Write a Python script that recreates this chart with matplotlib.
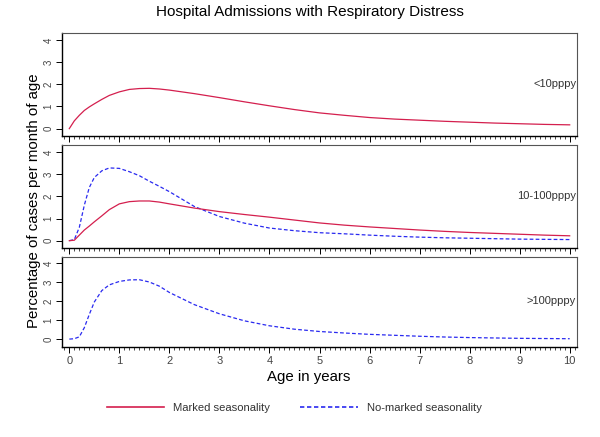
import numpy as np
import matplotlib
matplotlib.use('Agg')
import matplotlib.pyplot as plt
from matplotlib.lines import Line2D
from matplotlib.ticker import MultipleLocator

plt.rcParams['font.family'] = ['Liberation Sans', 'DejaVu Sans']

# ── 데이터 ─────────────────────────────────────────
age = [0, 0.1, 0.2, 0.3, 0.4, 0.5, 0.65, 0.8, 1.0, 1.2, 1.4, 1.6, 1.8, 2.0,
       2.5, 3.0, 3.5, 4.0, 4.5, 5.0, 5.5, 6.0, 6.5, 7.0, 7.5, 8.0, 8.5,
       9.0, 9.5, 10.0]

# <10pppy, 뚜렷한 계절성
low_marked = [0, 0.35, 0.6, 0.82, 0.98, 1.12, 1.32, 1.5, 1.66, 1.77, 1.81,
              1.82, 1.79, 1.74, 1.58, 1.40, 1.21, 1.03, 0.86, 0.71, 0.6,
              0.5, 0.43, 0.38, 0.33, 0.29, 0.25, 0.22, 0.19, 0.17]

# 10-100pppy
mid_marked = [0, 0.02, 0.25, 0.48, 0.66, 0.85, 1.12, 1.4, 1.66, 1.76, 1.79,
              1.79, 1.74, 1.66, 1.47, 1.31, 1.18, 1.06, 0.93, 0.80, 0.7,
              0.62, 0.55, 0.48, 0.42, 0.37, 0.33, 0.29, 0.25, 0.22]
mid_nomarked = [0, 0.05, 0.6, 1.6, 2.4, 2.85, 3.15, 3.28, 3.26, 3.11, 2.93,
                2.68, 2.45, 2.21, 1.54, 1.09, 0.79, 0.57, 0.45, 0.36, 0.31,
                0.25, 0.2, 0.16, 0.13, 0.11, 0.09, 0.07, 0.06, 0.05]

# >100pppy
high_nomarked = [0, 0.02, 0.12, 0.6, 1.3, 1.95, 2.55, 2.85, 3.03, 3.11, 3.12,
                 3.0, 2.78, 2.45, 1.81, 1.33, 0.96, 0.70, 0.52, 0.40, 0.32,
                 0.25, 0.2, 0.15, 0.11, 0.08, 0.06, 0.04, 0.03, 0.02]

panel_labels = ['<10pppy', '10-100pppy', '>100pppy']

red = '#d41f4e'
blue = '#2a2af0'
tick_col = '#444444'

fig = plt.figure(figsize=(6, 4.37), dpi=100)

# 세 패널 위치 (아래 패널이 조금 낮음)
boxes = [(0.103, 0.689, 0.859, 0.236),
         (0.103, 0.4325, 0.859, 0.2365),
         (0.103, 0.2066, 0.859, 0.206)]

series = [
    [(low_marked, 'm')],
    [(mid_marked, 'm'), (mid_nomarked, 'n')],
    [(high_nomarked, 'n')],
]

for i, (box, sers, lab) in enumerate(zip(boxes, series, panel_labels)):
    ax = fig.add_axes(box)
    for vals, kind in sers:
        if kind == 'm':
            ax.plot(age, vals, color=red, lw=0.9, zorder=3)
        else:
            ax.plot(age, vals, color=blue, lw=0.9, dashes=(3.0, 1.8), zorder=2)
    ax.set_xlim(-0.15, 10.15)
    if i == 2:
        ax.set_ylim(-0.4, 4.33)
    else:
        ax.set_ylim(-0.33, 4.33)
    ax.set_yticks([0, 1, 2, 3, 4])
    ax.set_xticks(range(0, 11))
    ax.xaxis.set_minor_locator(MultipleLocator(0.1))
    ax.tick_params(axis='y', direction='out', length=4, width=0.7,
                   labelsize=7, labelcolor=tick_col, labelrotation=90, pad=2)
    ax.tick_params(axis='x', which='major', direction='out', length=4,
                   width=0.7, labelsize=8, labelcolor=tick_col, pad=3)
    ax.tick_params(axis='x', which='minor', direction='out', length=2,
                   width=0.5)
    for lbl in ax.get_yticklabels():
        lbl.set_verticalalignment('center')
    if i < 2:
        ax.tick_params(axis='x', labelbottom=False)
    for s in ['top', 'right']:
        ax.spines[s].set_color('#555555')
        ax.spines[s].set_linewidth(0.8)
    for s in ['left', 'bottom']:
        ax.spines[s].set_color('black')
        ax.spines[s].set_linewidth(1.0)
    ax.text(0.998, 2, lab, transform=ax.get_yaxis_transform(),
            ha='right', va='center', fontsize=8, color='#333333')

fig.text(0.517, 0.972, 'Hospital Admissions with Respiratory Distress',
         ha='center', va='center', fontsize=11)
fig.text(0.056, 0.54, 'Percentage of cases per month of age',
         rotation=90, ha='center', va='center', fontsize=10.8)
fig.text(0.515, 0.137, 'Age in years', ha='center', va='center', fontsize=10.8)

handles = [Line2D([], [], color=red, lw=1.2),
           Line2D([], [], color=blue, lw=1.2, dashes=(2.6, 1.6))]
fig.legend(handles, ['Marked seasonality', 'No-marked seasonality'],
           loc='center', bbox_to_anchor=(0.49, 0.066), ncol=2, frameon=False,
           fontsize=8.1, handlelength=5.1, handletextpad=0.8,
           columnspacing=2.7, labelcolor='#333333')

fig.savefig('out.png', dpi=100)
